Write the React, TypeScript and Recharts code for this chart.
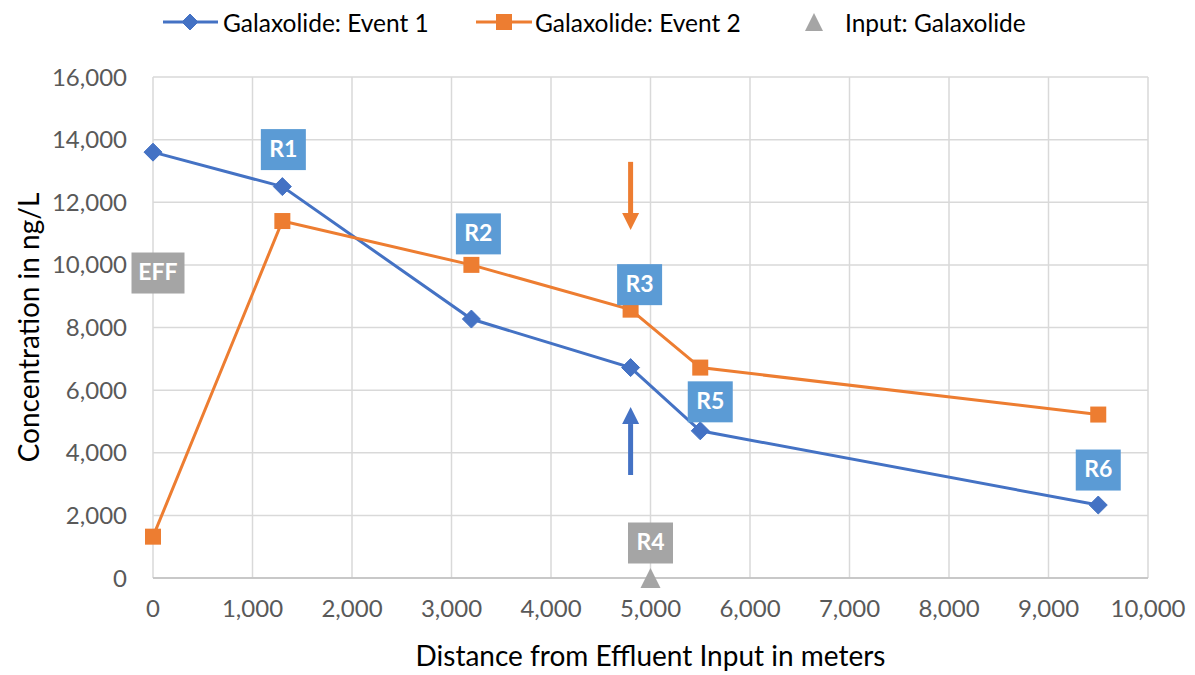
import React from "react";
import {
  ComposedChart,
  Line,
  Scatter,
  XAxis,
  YAxis,
  CartesianGrid,
  ReferenceDot,
  ReferenceLine,
} from "recharts";

// distance along the river (m) and measured concentrations (ng/L)
const distances = [0, 1300, 3200, 4800, 5500, 9500];
const event1 = [13600, 12500, 8270, 6720, 4700, 2330];
const event2 = [1320, 11400, 10000, 8570, 6720, 5220];
const inputDistances = [5000];
const inputValues = [0];

const xTicks = [0, 1000, 2000, 3000, 4000, 5000, 6000, 7000, 8000, 9000, 10000];
const yTicks = [0, 2000, 4000, 6000, 8000, 10000, 12000, 14000, 16000];

const seriesNames = ["Galaxolide: Event 1", "Galaxolide: Event 2", "Input: Galaxolide"];

// sampling site tags, anchored on the point they describe
const siteNames = ["EFF", "R1", "R2", "R3", "R4", "R5", "R6"];
const siteX = [0, 1300, 3200, 4800, 5000, 5500, 9500];
const siteY = [9740, 12500, 10000, 8570, 0, 4700, 2330];

// flow arrows near R3: start and end concentration
const arrowX = [4800, 4800];
const arrowFrom = [13290, 3290];
const arrowTo = [11110, 5460];

const BLUE = "#4472C4";
const ORANGE = "#ED7D31";
const GREY = "#A5A5A5";
const TAG_BLUE = "#5B9BD5";
const FONT = "Lato, 'Open Sans', sans-serif";

const event1Data = distances.map((x, i) => ({ x, y: event1[i] }));
const event2Data = distances.map((x, i) => ({ x, y: event2[i] }));
const inputData = inputDistances.map((x, i) => ({ x, y: inputValues[i] }));

const tagStyle: Record<string, { dx: number; dy: number; fill: string; w: number }> = {
  EFF: { dx: 5, dy: 0, fill: GREY, w: 53 },
  R1: { dx: 1, dy: -37, fill: TAG_BLUE, w: 45 },
  R2: { dx: 7, dy: -31, fill: TAG_BLUE, w: 45 },
  R3: { dx: 9, dy: -25, fill: TAG_BLUE, w: 45 },
  R4: { dx: 0, dy: -35, fill: GREY, w: 45 },
  R5: { dx: 10, dy: -29, fill: TAG_BLUE, w: 45 },
  R6: { dx: 0, dy: -35, fill: TAG_BLUE, w: 45 },
};

function Diamond({ cx, cy, fill, size = 9 }: any) {
  if (cx == null || cy == null) return null;
  return (
    <polygon
      points={`${cx},${cy - size} ${cx + size},${cy} ${cx},${cy + size} ${cx - size},${cy}`}
      fill={fill}
      stroke={fill}
    />
  );
}

function Square({ cx, cy, fill, size = 8 }: any) {
  if (cx == null || cy == null) return null;
  return <rect x={cx - size} y={cy - size} width={size * 2} height={size * 2} fill={fill} />;
}

function Triangle({ cx, cy, fill, size = 10 }: any) {
  if (cx == null || cy == null) return null;
  return (
    <polygon
      points={`${cx},${cy - size} ${cx + size},${cy + size} ${cx - size},${cy + size}`}
      fill={fill}
    />
  );
}

function SiteTag({ cx, cy, name }: any) {
  const s = tagStyle[name];
  const x = cx + s.dx;
  const y = cy + s.dy;
  return (
    <g>
      <rect x={x - s.w / 2} y={y - 20.5} width={s.w} height={41} fill={s.fill} />
      <text
        x={x}
        y={y + 1}
        textAnchor="middle"
        dominantBaseline="middle"
        fill="#fff"
        fontFamily={FONT}
        fontWeight={700}
        fontSize={23}
      >
        {name}
      </text>
    </g>
  );
}

function Arrow({ x1, y1, x2, y2, color }: any) {
  const head = 17;
  const dir = y2 > y1 ? 1 : -1;
  const baseY = y2 - dir * head;
  return (
    <g>
      <line x1={x1} y1={y1} x2={x2} y2={baseY} stroke={color} strokeWidth={5} />
      <polygon
        points={`${x2},${y2} ${x2 + 8.5},${baseY} ${x2 - 8.5},${baseY}`}
        fill={color}
      />
    </g>
  );
}

function LegendRow() {
  const ty = 22;
  return (
    <svg
      width={1195}
      height={45}
      style={{ position: "absolute", left: 0, top: 0 }}
      fontFamily={FONT}
    >
      <line x1={163} y1={ty} x2={218} y2={ty} stroke={BLUE} strokeWidth={3} />
      <Diamond cx={190} cy={ty} fill={BLUE} size={8} />
      <text x={223} y={ty} dominantBaseline="central" fontSize={24.5} fill="#000">
        {seriesNames[0]}
      </text>
      <line x1={476} y1={ty} x2={532} y2={ty} stroke={ORANGE} strokeWidth={3} />
      <Square cx={504} cy={ty} fill={ORANGE} size={8} />
      <text x={535} y={ty} dominantBaseline="central" fontSize={24.5} fill="#000">
        {seriesNames[1]}
      </text>
      <Triangle cx={814} cy={ty} fill={GREY} size={9} />
      <text x={845} y={ty} dominantBaseline="central" fontSize={24.5} fill="#000">
        {seriesNames[2]}
      </text>
    </svg>
  );
}

const fmt = (v: number) => v.toLocaleString("en-US");

export default function App() {
  return (
    <div style={{ position: "relative", width: 1195, height: 675, background: "#fff" }}>
      <style>{`body{margin:0}`}</style>
      <ComposedChart
        width={1195}
        height={675}
        margin={{ top: 77, right: 47, left: 0, bottom: 0 }}
        style={{ fontFamily: FONT }}
      >
        <CartesianGrid stroke="#D9D9D9" strokeWidth={1.5} />
        <XAxis
          type="number"
          dataKey="x"
          domain={[0, 10000]}
          ticks={xTicks}
          tickFormatter={fmt}
          tick={{ fontSize: 24, fill: "#595959" }}
          tickLine={false}
          tickSize={0}
          tickMargin={22}
          axisLine={{ stroke: "#BFBFBF", strokeWidth: 1.5 }}
          height={97}
          label={{
            value: "Distance from Effluent Input in meters",
            position: "insideBottom",
            offset: 9,
            fontSize: 28,
            fill: "#000",
          }}
        />
        <YAxis
          type="number"
          domain={[0, 16000]}
          ticks={yTicks}
          tickFormatter={fmt}
          tick={{ fontSize: 24, fill: "#595959" }}
          tickLine={false}
          tickSize={0}
          tickMargin={26}
          axisLine={false}
          width={153}
          label={{
            value: "Concentration in ng/L",
            angle: -90,
            position: "insideLeft",
            offset: 29,
            fontSize: 28,
            fill: "#000",
            style: { textAnchor: "middle" },
          }}
        />
        <Line
          data={event1Data}
          dataKey="y"
          type="linear"
          stroke={BLUE}
          strokeWidth={3}
          dot={(p: any) => <Diamond key={`d1-${p.index}`} cx={p.cx} cy={p.cy} fill={BLUE} />}
          isAnimationActive={false}
        />
        <Line
          data={event2Data}
          dataKey="y"
          type="linear"
          stroke={ORANGE}
          strokeWidth={3}
          dot={(p: any) => <Square key={`d2-${p.index}`} cx={p.cx} cy={p.cy} fill={ORANGE} />}
          isAnimationActive={false}
        />
        <Scatter
          data={inputData}
          dataKey="y"
          fill={GREY}
          shape={(p: any) => <Triangle cx={p.cx} cy={p.cy} fill={GREY} />}
          isAnimationActive={false}
        />
        {arrowX.map((x, i) => (
          <ReferenceLine
            key={`arrow-${i}`}
            segment={[
              { x, y: arrowFrom[i] },
              { x, y: arrowTo[i] },
            ]}
            shape={(p: any) => <Arrow {...p} color={i === 0 ? ORANGE : BLUE} />}
          />
        ))}
        {siteNames.map((name, i) => (
          <ReferenceDot
            key={name}
            x={siteX[i]}
            y={siteY[i]}
            r={0}
            shape={(p: any) => <SiteTag cx={p.cx} cy={p.cy} name={name} />}
          />
        ))}
      </ComposedChart>
      <LegendRow />
    </div>
  );
}
